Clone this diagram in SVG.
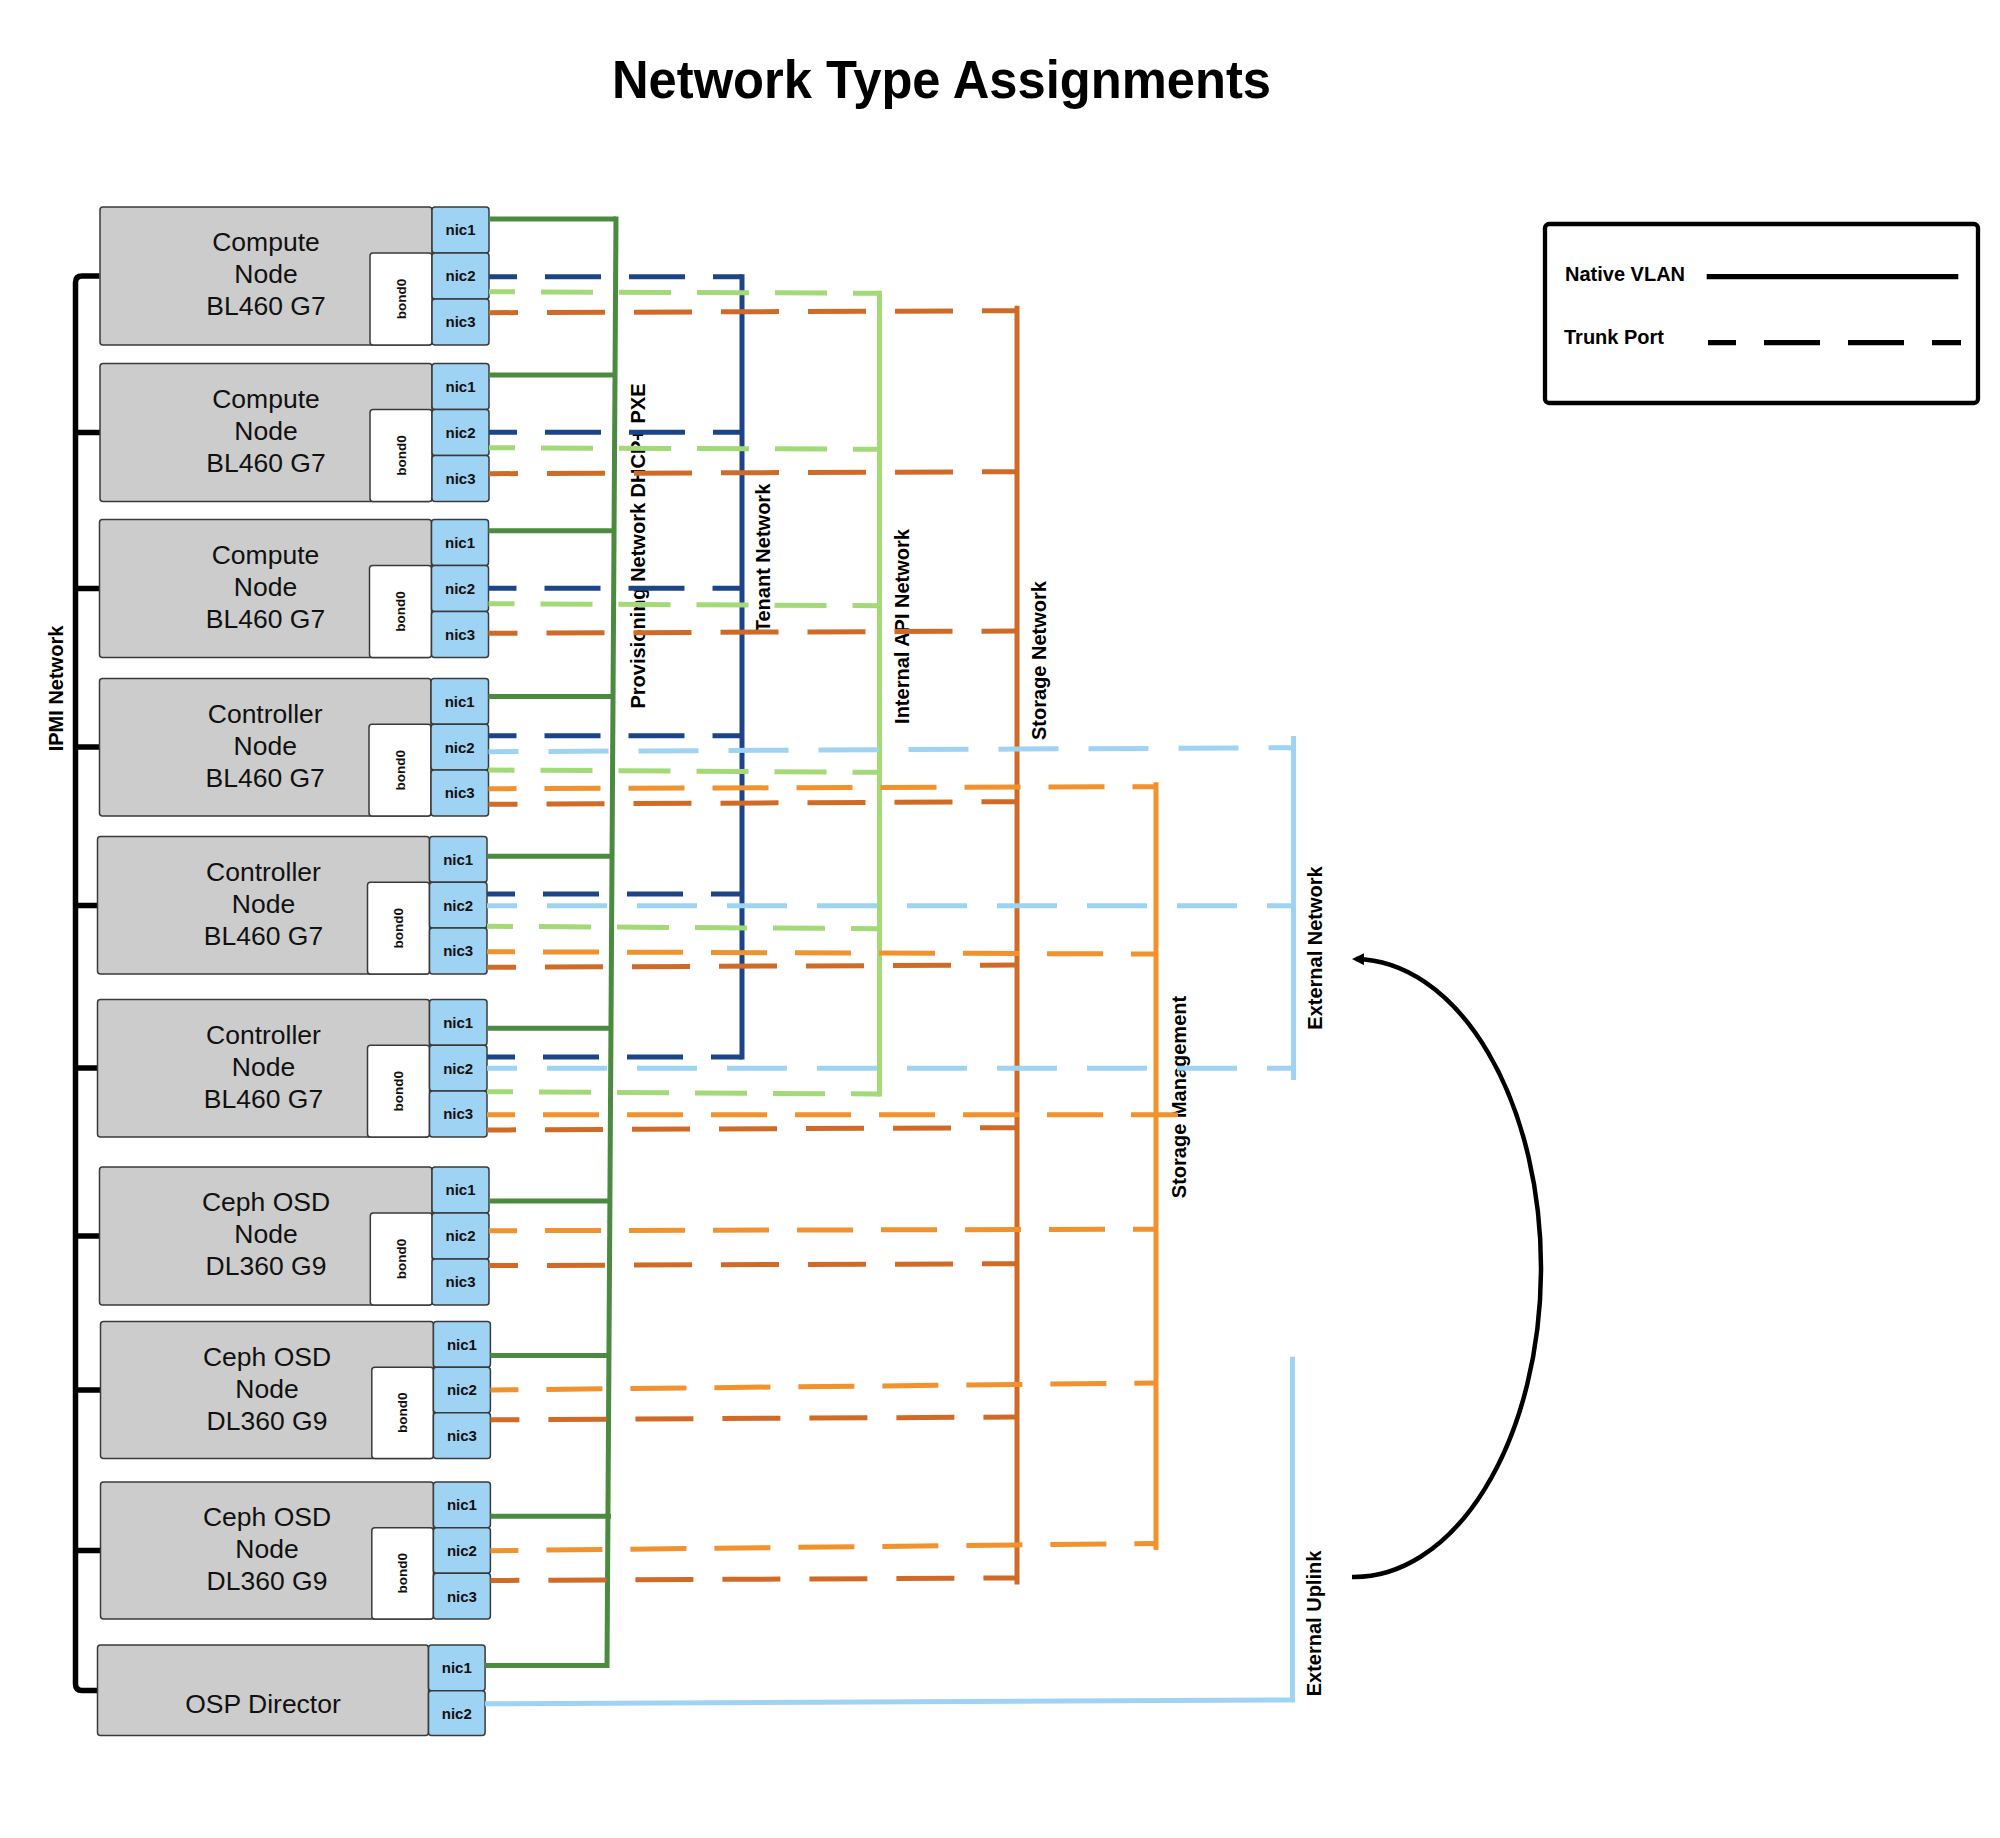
<svg xmlns="http://www.w3.org/2000/svg" width="2000" height="1838" viewBox="0 0 2000 1838">
<defs>
<style>
.box{fill:#cccccc;stroke:#3a3a3a;stroke-width:1.5}
.bond{fill:#ffffff;stroke:#3a3a3a;stroke-width:1.5}
.nic{fill:#9fd3f3;stroke:#3a3a3a;stroke-width:1.5}
.lbl{font-family:"Liberation Sans",Arial,sans-serif;font-size:26.5px;fill:#111111;text-anchor:middle}
.nt{font-family:"Liberation Sans",Arial,sans-serif;font-size:15px;font-weight:bold;fill:#111111;text-anchor:middle}
.bt{font-family:"Liberation Sans",Arial,sans-serif;font-size:13.5px;font-weight:bold;fill:#111111;text-anchor:middle}
.net{font-family:"Liberation Sans",Arial,sans-serif;font-size:20px;font-weight:bold;fill:#000000;text-anchor:middle}
.ln{fill:none;stroke-width:5}
.prov{stroke:#4b8b3f}
.ten{stroke:#1c4587;stroke-dasharray:56 28;stroke-dashoffset:28}
.api{stroke:#a3d977;stroke-dasharray:52 26;stroke-dashoffset:26}
.sto{stroke:#d06b27;stroke-dasharray:58 29;stroke-dashoffset:29}
.stm{stroke:#f0922e;stroke-dasharray:56 28;stroke-dashoffset:28}
.ext{stroke:#9fd3f3;stroke-dasharray:60 30;stroke-dashoffset:30}
.v{stroke-dasharray:none}
</style>
<marker id="arr" markerUnits="userSpaceOnUse" viewBox="0 0 12 12" markerWidth="12" markerHeight="12" refX="8" refY="6" orient="auto">
<path d="M0,0 L12,6 L0,12 z" fill="#000000"/>
</marker>
</defs>
<rect x="0" y="0" width="2000" height="1838" fill="#ffffff"/>

<text x="941.5" y="98" font-family="Liberation Sans, Arial, sans-serif" font-size="54" font-weight="bold" text-anchor="middle" textLength="659" lengthAdjust="spacingAndGlyphs" fill="#000000">Network Type Assignments</text>

<g id="ipmi">
<path d="M99.5 276 H82 Q75.5 276 75.5 282.5 V1684 Q75.5 1690.5 82 1690.5 H97.5" fill="none" stroke="#000000" stroke-width="5.5"/>
<path d="M75.5 432.5 H100 M75.5 588.5 H99.5 M75.5 747 H99.5 M75.5 905.5 H97.5 M75.5 1068 H97.5 M75.5 1236 H99.5 M75.5 1390 H100.5 M75.5 1550.5 H100.5" fill="none" stroke="#000000" stroke-width="5.5"/>
</g>

<g id="compute1">
<rect class="box" x="100" y="207" width="332" height="138" rx="3"/>
<rect class="bond" x="370" y="253" width="62" height="92" rx="3"/>
<rect class="nic" x="432" y="207" width="57" height="46" rx="3"/>
<rect class="nic" x="432" y="253" width="57" height="46" rx="3"/>
<rect class="nic" x="432" y="299" width="57" height="46" rx="3"/>
<text class="lbl"><tspan x="266" y="251">Compute</tspan><tspan x="266" y="283">Node</tspan><tspan x="266" y="315">BL460 G7</tspan></text>
<text class="nt" x="460.5" y="235.3">nic1</text>
<text class="nt" x="460.5" y="281.3">nic2</text>
<text class="nt" x="460.5" y="327.3">nic3</text>
<text class="bt" transform="rotate(-90 401 299)" x="401" y="303.7">bond0</text>
</g>

<g id="compute2">
<rect class="box" x="100" y="363.5" width="332" height="138" rx="3"/>
<rect class="bond" x="370" y="409.5" width="62" height="92" rx="3"/>
<rect class="nic" x="432" y="363.5" width="57" height="46" rx="3"/>
<rect class="nic" x="432" y="409.5" width="57" height="46" rx="3"/>
<rect class="nic" x="432" y="455.5" width="57" height="46" rx="3"/>
<text class="lbl"><tspan x="266" y="407.5">Compute</tspan><tspan x="266" y="439.5">Node</tspan><tspan x="266" y="471.5">BL460 G7</tspan></text>
<text class="nt" x="460.5" y="391.8">nic1</text>
<text class="nt" x="460.5" y="437.8">nic2</text>
<text class="nt" x="460.5" y="483.8">nic3</text>
<text class="bt" transform="rotate(-90 401 455.5)" x="401" y="460.2">bond0</text>
</g>

<g id="compute3">
<rect class="box" x="99.5" y="519.5" width="332" height="138" rx="3"/>
<rect class="bond" x="369.5" y="565.5" width="62" height="92" rx="3"/>
<rect class="nic" x="431.5" y="519.5" width="57" height="46" rx="3"/>
<rect class="nic" x="431.5" y="565.5" width="57" height="46" rx="3"/>
<rect class="nic" x="431.5" y="611.5" width="57" height="46" rx="3"/>
<text class="lbl"><tspan x="265.5" y="563.5">Compute</tspan><tspan x="265.5" y="595.5">Node</tspan><tspan x="265.5" y="627.5">BL460 G7</tspan></text>
<text class="nt" x="460" y="547.8">nic1</text>
<text class="nt" x="460" y="593.8">nic2</text>
<text class="nt" x="460" y="639.8">nic3</text>
<text class="bt" transform="rotate(-90 400.5 611.5)" x="400.5" y="616.2">bond0</text>
</g>

<g id="controller1">
<rect class="box" x="99.5" y="678.5" width="331.5" height="137.5" rx="3"/>
<rect class="bond" x="369" y="724.3" width="62" height="91.7" rx="3"/>
<rect class="nic" x="431" y="678.5" width="57.5" height="45.8" rx="3"/>
<rect class="nic" x="431" y="724.3" width="57.5" height="45.8" rx="3"/>
<rect class="nic" x="431" y="770.1" width="57.5" height="45.9" rx="3"/>
<text class="lbl"><tspan x="265.2" y="722.5">Controller</tspan><tspan x="265.2" y="754.5">Node</tspan><tspan x="265.2" y="786.5">BL460 G7</tspan></text>
<text class="nt" x="459.7" y="706.7">nic1</text>
<text class="nt" x="459.7" y="752.5">nic2</text>
<text class="nt" x="459.7" y="798.4">nic3</text>
<text class="bt" transform="rotate(-90 400 770.2)" x="400" y="774.9">bond0</text>
</g>

<g id="controller2">
<rect class="box" x="97.5" y="836.5" width="332" height="137.5" rx="3"/>
<rect class="bond" x="367.5" y="882.3" width="62" height="91.7" rx="3"/>
<rect class="nic" x="429.5" y="836.5" width="57.5" height="45.8" rx="3"/>
<rect class="nic" x="429.5" y="882.3" width="57.5" height="45.8" rx="3"/>
<rect class="nic" x="429.5" y="928.1" width="57.5" height="45.9" rx="3"/>
<text class="lbl"><tspan x="263.5" y="880.5">Controller</tspan><tspan x="263.5" y="912.5">Node</tspan><tspan x="263.5" y="944.5">BL460 G7</tspan></text>
<text class="nt" x="458.2" y="864.7">nic1</text>
<text class="nt" x="458.2" y="910.5">nic2</text>
<text class="nt" x="458.2" y="956.4">nic3</text>
<text class="bt" transform="rotate(-90 398.5 928.2)" x="398.5" y="932.9">bond0</text>
</g>

<g id="controller3">
<rect class="box" x="97.5" y="999.5" width="332" height="137.5" rx="3"/>
<rect class="bond" x="367.5" y="1045.3" width="62" height="91.7" rx="3"/>
<rect class="nic" x="429.5" y="999.5" width="57.5" height="45.8" rx="3"/>
<rect class="nic" x="429.5" y="1045.3" width="57.5" height="45.8" rx="3"/>
<rect class="nic" x="429.5" y="1091.1" width="57.5" height="45.9" rx="3"/>
<text class="lbl"><tspan x="263.5" y="1043.5">Controller</tspan><tspan x="263.5" y="1075.5">Node</tspan><tspan x="263.5" y="1107.5">BL460 G7</tspan></text>
<text class="nt" x="458.2" y="1027.7">nic1</text>
<text class="nt" x="458.2" y="1073.5">nic2</text>
<text class="nt" x="458.2" y="1119.4">nic3</text>
<text class="bt" transform="rotate(-90 398.5 1091.2)" x="398.5" y="1095.9">bond0</text>
</g>

<g id="ceph1">
<rect class="box" x="99.5" y="1167" width="332.5" height="138" rx="3"/>
<rect class="bond" x="370.3" y="1213" width="62" height="92" rx="3"/>
<rect class="nic" x="432" y="1167" width="57" height="46" rx="3"/>
<rect class="nic" x="432" y="1213" width="57" height="46" rx="3"/>
<rect class="nic" x="432" y="1259" width="57" height="46" rx="3"/>
<text class="lbl"><tspan x="266" y="1211">Ceph OSD</tspan><tspan x="266" y="1243">Node</tspan><tspan x="266" y="1275">DL360 G9</tspan></text>
<text class="nt" x="460.5" y="1195.3">nic1</text>
<text class="nt" x="460.5" y="1241.3">nic2</text>
<text class="nt" x="460.5" y="1287.3">nic3</text>
<text class="bt" transform="rotate(-90 401.2 1259)" x="401.2" y="1263.7">bond0</text>
</g>

<g id="ceph2">
<rect class="box" x="100.5" y="1321.5" width="333" height="137" rx="3"/>
<rect class="bond" x="371.8" y="1367.2" width="61.6" height="91.3" rx="3"/>
<rect class="nic" x="433.4" y="1321.5" width="57" height="45.7" rx="3"/>
<rect class="nic" x="433.4" y="1367.2" width="57" height="45.6" rx="3"/>
<rect class="nic" x="433.4" y="1412.8" width="57" height="45.7" rx="3"/>
<text class="lbl"><tspan x="267" y="1365.5">Ceph OSD</tspan><tspan x="267" y="1397.5">Node</tspan><tspan x="267" y="1429.5">DL360 G9</tspan></text>
<text class="nt" x="461.9" y="1349.7">nic1</text>
<text class="nt" x="461.9" y="1395.4">nic2</text>
<text class="nt" x="461.9" y="1441">nic3</text>
<text class="bt" transform="rotate(-90 402.6 1412.8)" x="402.6" y="1417.5">bond0</text>
</g>

<g id="ceph3">
<rect class="box" x="100.5" y="1482" width="333" height="137" rx="3"/>
<rect class="bond" x="371.8" y="1527.7" width="61.6" height="91.3" rx="3"/>
<rect class="nic" x="433.4" y="1482" width="57" height="45.7" rx="3"/>
<rect class="nic" x="433.4" y="1527.7" width="57" height="45.6" rx="3"/>
<rect class="nic" x="433.4" y="1573.3" width="57" height="45.7" rx="3"/>
<text class="lbl"><tspan x="267" y="1526">Ceph OSD</tspan><tspan x="267" y="1558">Node</tspan><tspan x="267" y="1590">DL360 G9</tspan></text>
<text class="nt" x="461.9" y="1510.2">nic1</text>
<text class="nt" x="461.9" y="1555.9">nic2</text>
<text class="nt" x="461.9" y="1601.5">nic3</text>
<text class="bt" transform="rotate(-90 402.6 1573.3)" x="402.6" y="1578">bond0</text>
</g>

<g id="ospdirector">
<rect class="box" x="97.5" y="1645" width="331" height="90.5" rx="3"/>
<rect class="nic" x="428.5" y="1645" width="56.6" height="45.8" rx="3"/>
<rect class="nic" x="428.5" y="1690.8" width="56.6" height="44.7" rx="3"/>
<text class="lbl" x="263" y="1713">OSP Director</text>
<text class="nt" x="456.8" y="1673.2">nic1</text>
<text class="nt" x="456.8" y="1718.5">nic2</text>
</g>

<g id="network-labels">
<text class="net" transform="translate(62.5 688.5) rotate(-90)">IPMI Network</text>
<text class="net" transform="translate(645 546) rotate(-90)">Provisioning Network DHCP+ PXE</text>
<text class="net" transform="translate(770 558) rotate(-90)">Tenant Network</text>
<text class="net" transform="translate(908.5 626.5) rotate(-90)">Internal API Network</text>
<text class="net" transform="translate(1046 660.5) rotate(-90)">Storage Network</text>
<text class="net" transform="translate(1186 1097) rotate(-90)">Storage Management</text>
<text class="net" transform="translate(1322 948) rotate(-90)">External Network</text>
<text class="net" transform="translate(1321 1623.5) rotate(-90)">External Uplink</text>
</g>

<g id="connectors">
<line class="ln prov" x1="616" y1="216.5" x2="607" y2="1668"/>
<line class="ln ten v" x1="742" y1="274.2" x2="742" y2="1059.5"/>
<line class="ln api v" x1="879.5" y1="290.8" x2="879.5" y2="1096.5"/>
<line class="ln sto v" x1="1017" y1="305.7" x2="1017" y2="1584.5"/>
<line class="ln stm v" x1="1156" y1="782.3" x2="1156" y2="1550"/>
<line class="ln ext v" x1="1293.5" y1="736" x2="1293.5" y2="1080"/>
<polyline class="ln ext v" points="485,1703.8 1292.5,1700 1292.5,1356.7"/>

<line class="ln prov" x1="489" y1="219" x2="616" y2="219"/>
<line class="ln prov" x1="489" y1="375" x2="615" y2="375"/>
<line class="ln prov" x1="488.5" y1="530.7" x2="614" y2="530.7"/>
<line class="ln prov" x1="488.5" y1="696.5" x2="613" y2="696.5"/>
<line class="ln prov" x1="487" y1="856.3" x2="612" y2="856.3"/>
<line class="ln prov" x1="487" y1="1028.3" x2="611" y2="1028.3"/>
<line class="ln prov" x1="489" y1="1201" x2="610" y2="1201"/>
<line class="ln prov" x1="490.4" y1="1355.5" x2="609" y2="1355.5"/>
<line class="ln prov" x1="490.4" y1="1516.2" x2="611" y2="1516.2"/>
<line class="ln prov" x1="485" y1="1665.5" x2="607" y2="1665.5"/>

<line class="ln ten" x1="489" y1="276.7" x2="742" y2="276.7"/>
<line class="ln ten" x1="489" y1="432.3" x2="742" y2="432.3"/>
<line class="ln ten" x1="488.5" y1="588.3" x2="742" y2="588.3"/>
<line class="ln ten" x1="488.5" y1="735.7" x2="742" y2="735.7"/>
<line class="ln ten" x1="487" y1="894" x2="742" y2="894"/>
<line class="ln ten" x1="487" y1="1057" x2="742" y2="1057"/>

<line class="ln api" x1="489" y1="291.7" x2="879.5" y2="293.3"/>
<line class="ln api" x1="489" y1="447.7" x2="879.5" y2="449.3"/>
<line class="ln api" x1="488.5" y1="603.7" x2="879.5" y2="605.7"/>
<line class="ln api" x1="488.5" y1="770" x2="879.5" y2="772.3"/>
<line class="ln api" x1="487" y1="926.3" x2="879.5" y2="928.7"/>
<line class="ln api" x1="487" y1="1091.7" x2="879.5" y2="1094"/>

<line class="ln sto" x1="489" y1="312.7" x2="1017" y2="310.7"/>
<line class="ln sto" x1="489" y1="473.7" x2="1017" y2="471.7"/>
<line class="ln sto" x1="488.5" y1="633.3" x2="1017" y2="631"/>
<line class="ln sto" x1="488.5" y1="804.3" x2="1017" y2="801.7"/>
<line class="ln sto" x1="487" y1="967.3" x2="1017" y2="965"/>
<line class="ln sto" x1="487" y1="1130" x2="1017" y2="1127.7"/>
<line class="ln sto" x1="489" y1="1265.6" x2="1017" y2="1263.7"/>
<line class="ln sto" x1="490.4" y1="1419.8" x2="1017" y2="1417"/>
<line class="ln sto" x1="490.4" y1="1580.5" x2="1017" y2="1577.9"/>

<line class="ln stm" x1="488.5" y1="788.7" x2="1156" y2="786.7"/>
<line class="ln stm" x1="487" y1="951.7" x2="1156" y2="954"/>
<line class="ln stm" x1="487" y1="1114.7" x2="1178" y2="1114.7"/>
<line class="ln stm" x1="489" y1="1230.7" x2="1156" y2="1229.2"/>
<line class="ln stm" x1="490.4" y1="1390" x2="1156" y2="1383"/>
<line class="ln stm" x1="490.4" y1="1550.7" x2="1156" y2="1543.4"/>

<line class="ln ext" x1="488.5" y1="751.7" x2="1293.5" y2="747.7"/>
<line class="ln ext" x1="487" y1="905.7" x2="1293.5" y2="905.7"/>
<line class="ln ext" x1="487" y1="1068.3" x2="1293.5" y2="1068.3"/>

<path d="M1352 1577 A187 309 0 0 0 1356 959" fill="none" stroke="#000000" stroke-width="4.5" marker-end="url(#arr)"/>
</g>

<g id="legend">
<rect x="1545" y="224" width="433" height="179" rx="4" fill="#ffffff" stroke="#000000" stroke-width="4.3"/>
<text x="1565" y="280.7" font-family="Liberation Sans, Arial, sans-serif" font-size="20" font-weight="bold" fill="#000000">Native VLAN</text>
<line x1="1706.7" y1="276.7" x2="1958.3" y2="276.7" stroke="#000000" stroke-width="5.3"/>
<text x="1564" y="344" font-family="Liberation Sans, Arial, sans-serif" font-size="20" font-weight="bold" fill="#000000">Trunk Port</text>
<line x1="1708" y1="342.7" x2="1961" y2="342.7" stroke="#000000" stroke-width="5.3" stroke-dasharray="56 28" stroke-dashoffset="28"/>
</g>
</svg>
